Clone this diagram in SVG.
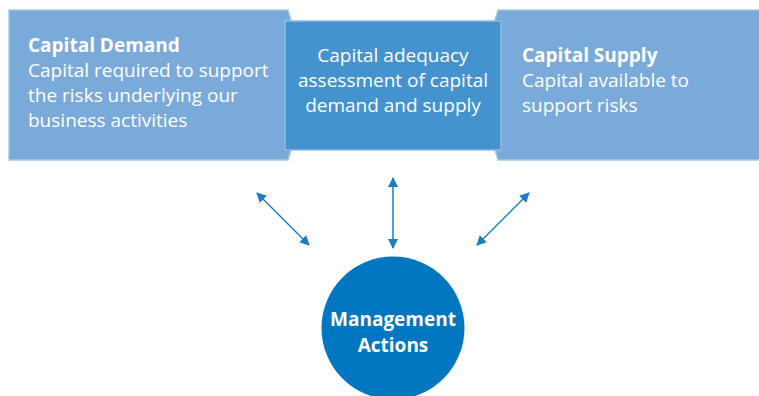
<svg xmlns="http://www.w3.org/2000/svg" width="759" height="396" viewBox="0 0 759 396">
<style>
.side{fill:#7aaad9;stroke:#a6c7e7;stroke-width:1.5}
.mid{fill:#4493cf;stroke:#8dbde3;stroke-width:1.5}
.t{font-family:"Open Sans","Noto Sans",sans-serif;font-size:19px;fill:#fff}
.b{font-weight:bold}
.con{stroke:#1f7cc1;stroke-width:1.5;fill:none;marker-start:url(#ah);marker-end:url(#ah)}
</style>
<defs>
<marker id="ah" viewBox="0 0 10 10" refX="9" refY="5" markerWidth="10" markerHeight="10" markerUnits="userSpaceOnUse" orient="auto-start-reverse">
<path d="M0,0 L10,5 L0,10 z" fill="#1f7cc1"/>
</marker>
</defs>
<rect width="759" height="396" fill="#fff"/>
<g id="demand">
<path class="side" d="M9,10 H288 L291,20 V150 L288,160 H9 Z"/>
<text class="t b" x="28" y="52">Capital Demand</text>
<text class="t" x="28" y="77">Capital required to support</text>
<text class="t" x="28" y="102">the risks underlying our</text>
<text class="t" x="28" y="127">business activities</text>
</g>
<g id="supply">
<path class="side" d="M498,10 H760 V160 H498 L495,150 V20 Z"/>
<text class="t b" x="522" y="62">Capital Supply</text>
<text class="t" x="522" y="87">Capital available to</text>
<text class="t" x="522" y="112">support risks</text>
</g>
<g id="assessment">
<rect class="mid" x="285" y="21" width="216" height="129"/>
<text class="t" x="393" y="62" text-anchor="middle">Capital adequacy</text>
<text class="t" x="393" y="87" text-anchor="middle">assessment of capital</text>
<text class="t" x="393" y="112" text-anchor="middle">demand and supply</text>
</g>
<g id="management">
<circle cx="393" cy="328" r="71.5" fill="#0077c0"/>
<text class="t b" x="393" y="326" text-anchor="middle">Management</text>
<text class="t b" x="393" y="352" text-anchor="middle">Actions</text>
</g>
<g id="connectors">
<line class="con" x1="257" y1="193" x2="309" y2="245"/>
<line class="con" x1="393" y1="178" x2="393" y2="248"/>
<line class="con" x1="529" y1="193" x2="477" y2="245"/>
</g>
</svg>
